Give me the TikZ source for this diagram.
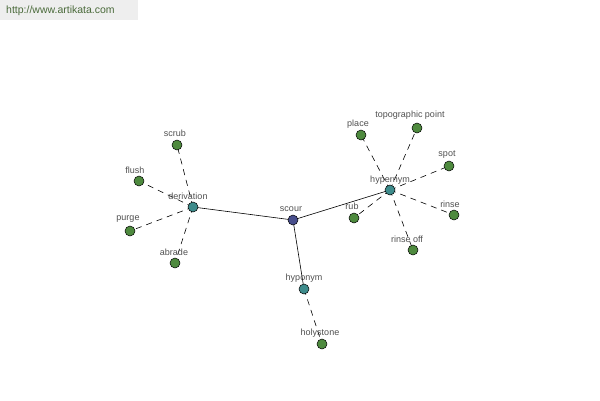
\documentclass[tikz,border=0pt]{standalone}
\usepackage{fontspec}
\setmainfont{Liberation Sans}
\usetikzlibrary{backgrounds}
\definecolor{leaf}{HTML}{4E8A3E}
\definecolor{mid}{HTML}{3E8C8C}
\definecolor{root}{HTML}{474E8C}
\definecolor{lbl}{HTML}{505050}
\definecolor{banner}{HTML}{EEEEEE}
\definecolor{url}{HTML}{4A6A3A}
\begin{document}
\begin{tikzpicture}[x=1pt,y=-1pt,
  dot/.style={circle,draw=black,line width=0.5pt,minimum size=10pt,inner sep=0pt},
  leafdot/.style={dot,fill=leaf},
  middot/.style={dot,fill=mid},
  rootdot/.style={dot,fill=root},
  lab/.style={font=\fontsize{9}{10}\selectfont,text=lbl,inner sep=0pt},
  solidedge/.style={line width=0.6pt},
  dashedge/.style={line width=0.6pt,dash pattern=on 6pt off 5pt}]
\useasboundingbox (0,0) rectangle (600,400);
\fill[banner] (0,0) rectangle (138,20);
\node[font=\fontsize{10.5}{12}\selectfont,text=url,anchor=west,inner sep=0pt] (url) at (6,11) {http://www.artikata.com};

% nodes
\node[rootdot] (scour) at (293,220) {};
\node[middot] (der) at (193,207) {};
\node[middot] (hyper) at (390,190) {};
\node[middot] (hypo) at (304,289) {};
\node[leafdot] (scrub) at (177,145) {};
\node[leafdot] (flush) at (139,181) {};
\node[leafdot] (purge) at (130,231) {};
\node[leafdot] (abrade) at (175,263) {};
\node[leafdot] (place) at (361,135) {};
\node[leafdot] (topo) at (417,128) {};
\node[leafdot] (spot) at (449,166) {};
\node[leafdot] (rinse) at (454,215) {};
\node[leafdot] (rub) at (354,218) {};
\node[leafdot] (rinseoff) at (413,250) {};
\node[leafdot] (holy) at (322,344) {};

% edges
\begin{pgfonlayer}{background}
\draw[solidedge] (scour.center) -- (der.center);
\draw[solidedge] (scour.center) -- (hyper.center);
\draw[solidedge] (scour.center) -- (hypo.center);
\draw[dashedge] (der.center) -- (scrub.center);
\draw[dashedge] (der.center) -- (flush.center);
\draw[dashedge] (der.center) -- (purge.center);
\draw[dashedge] (der.center) -- (abrade.center);
\draw[dashedge] (hyper.center) -- (place.center);
\draw[dashedge] (hyper.center) -- (topo.center);
\draw[dashedge] (hyper.center) -- (spot.center);
\draw[dashedge] (hyper.center) -- (rinse.center);
\draw[dashedge] (hyper.center) -- (rub.center);
\draw[dashedge] (hyper.center) -- (rinseoff.center);
\draw[dashedge] (hypo.center) -- (holy.center);
\end{pgfonlayer}

% labels
\node[lab] (lscour) at (291,209) {scour};
\node[lab] (lder) at (188,196) {derivation};
\node[lab] (lhyper) at (390,180) {hypernym};
\node[lab] (lhypo) at (304,278) {hyponym};
\node[lab] (lscrub) at (175,133) {scrub};
\node[lab] (lflush) at (135,170) {flush};
\node[lab] (lpurge) at (128,219) {purge};
\node[lab] (labrade) at (174,252) {abrade};
\node[lab] (lplace) at (358,124) {place};
\node[lab] (ltopo) at (410,115) {topographic point};
\node[lab] (lspot) at (447,155) {spot};
\node[lab] (lrinse) at (450,204) {rinse};
\node[lab] (lrub) at (352,206) {rub};
\node[lab] (lrinseoff) at (407,239) {rinse off};
\node[lab] (lholy) at (320,333) {holystone};
\end{tikzpicture}
\end{document}
